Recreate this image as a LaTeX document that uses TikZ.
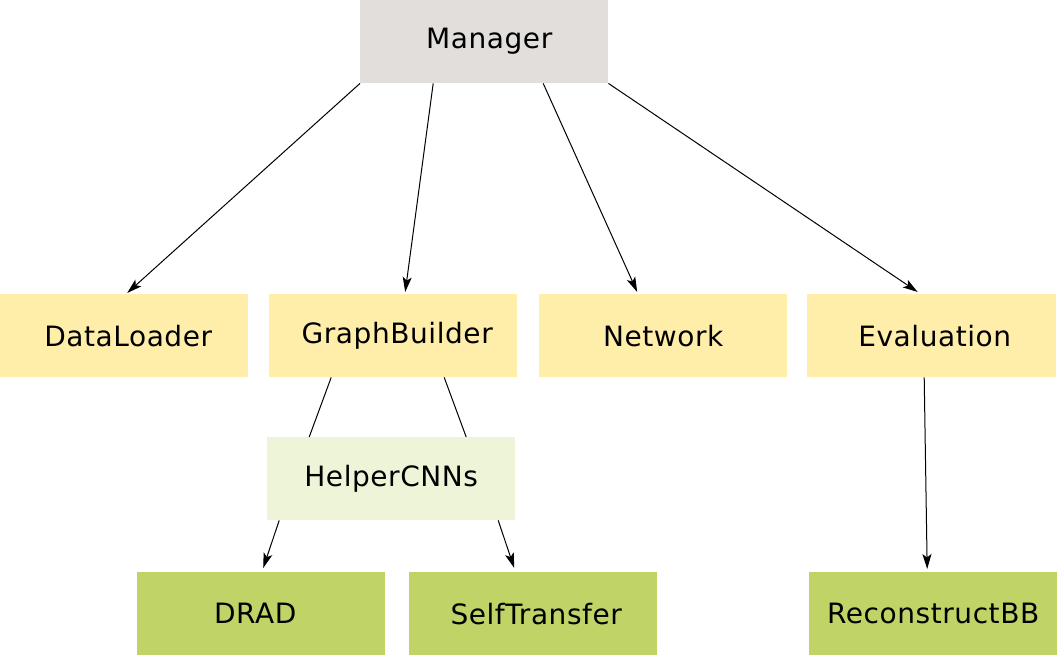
\documentclass[tikz,border=0pt]{standalone}
\usepackage{fontspec}
\setmainfont{DejaVu Sans}[LetterSpace=2]
\usetikzlibrary{arrows.meta}
\definecolor{mgrc}{HTML}{E2DEDB}
\definecolor{yelc}{HTML}{FFEEAA}
\definecolor{lgrc}{HTML}{EEF4D7}
\definecolor{grnc}{HTML}{BFD366}
\newcommand\shtxt[3]{\kern#1\raisebox{#2}{#3}\kern-#1}
\begin{document}
\begin{tikzpicture}[x=1pt,y=-1pt,
  box/.style={draw=none,minimum width=248pt,minimum height=83pt,inner sep=0pt,
    font=\fontsize{28}{34}\selectfont,anchor=north west},
  arr/.style={draw=black,line width=1pt,-{Stealth[length=15pt,width=9pt,inset=3.5pt]}},
  ln/.style={draw=black,line width=1pt}]
\useasboundingbox (0,0) rectangle (1058,656);
\node[box,fill=mgrc] (mgr) at (360,0) {\shtxt{5pt}{0pt}{Manager}};
\node[box,fill=yelc] (dl) at (0,294) {\shtxt{4pt}{0pt}{DataLoader}};
\node[box,fill=yelc] (gb) at (269,294) {\shtxt{4pt}{0pt}{GraphBuilder}};
\node[box,fill=yelc] (nw) at (539,294) {Network};
\node[box,fill=yelc,minimum width=249pt] (ev) at (807,294) {\shtxt{3pt}{-2pt}{Evaluation}};
\node[box,fill=lgrc] (hc) at (267,437) {HelperCNNs};
\node[box,fill=grnc] (dr) at (137,572) {\shtxt{-6pt}{0pt}{DRAD}};
\node[box,fill=grnc] (st) at (409,572) {\shtxt{3pt}{-2pt}{SelfTransfer}};
\node[box,fill=grnc] (rb) at (809,572) {ReconstructBB};
\draw[arr] (mgr.south west) -- ([xshift=3pt,yshift=1pt]dl.north);
\draw[arr] ([xshift=-51pt]mgr.south) -- ([xshift=12pt,yshift=2pt]gb.north);
\draw[arr] ([xshift=59pt]mgr.south) -- ([xshift=-26pt,yshift=2pt]nw.north);
\draw[arr] (mgr.south east) -- ([xshift=-14pt,yshift=2pt]ev.north);
\draw[arr] ([xshift=-7.5pt]ev.south) -- ([xshift=-6pt,yshift=3pt]rb.north);
\draw[ln] ([xshift=-62pt]gb.south) -- ([xshift=-82pt]hc.north);
\draw[ln] ([xshift=51pt]gb.south) -- ([xshift=75pt]hc.north);
\draw[arr] ([xshift=-112pt]hc.south) -- ([xshift=2pt,yshift=4pt]dr.north);
\draw[arr] ([xshift=107pt]hc.south) -- ([xshift=-19pt,yshift=4pt]st.north);
\end{tikzpicture}
\end{document}
